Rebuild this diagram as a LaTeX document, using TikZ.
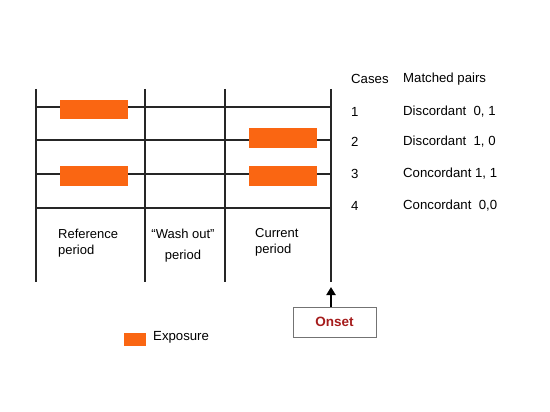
\documentclass[tikz,border=0pt]{standalone}
\usepackage{fontspec}
\setmainfont{Liberation Sans}
\usetikzlibrary{arrows.meta}
\definecolor{expo}{RGB}{250,102,18}
\definecolor{onsetred}{RGB}{165,28,28}
\begin{document}
\begin{tikzpicture}[x=1pt,y=-1pt,
  grid/.style={line width=1.3pt,black!85},
  bar/.style={fill=expo,draw=none},
  lbl/.style={font=\fontsize{13.2}{15}\selectfont,inner sep=0pt,anchor=west},
  plbl/.style={font=\fontsize{13}{16}\selectfont,inner sep=0pt,align=left,anchor=north west}]
\useasboundingbox (0,0) rectangle (550,412);
% vertical lines
\foreach \x in {36,145,225,331} \draw[grid] (\x,89) -- (\x,282);
% horizontal lines
\foreach \y in {107,140,174,208} \draw[grid] (36,\y) -- (331,\y);
% exposure bars
\fill[bar] (60,100) rectangle (128,119);
\fill[bar] (249,128) rectangle (317,148);
\fill[bar] (60,166) rectangle (128,186);
\fill[bar] (249,166) rectangle (317,186);
% period labels
\node[plbl] (ref) at (58,228.5) {Reference\\period};
\node[plbl,align=center,anchor=north] (wash) at (183,228.5) {“Wash out”\\[5pt]period};
\node[plbl] (cur) at (255,228.5) {Current\\period};
% table on the right
\node[lbl] (cases) at (351,79) {Cases};
\node[lbl] (mp) at (403,79) {Matched pairs};
\node[lbl] (n1) at (351,112) {1};
\node[lbl] (t1) at (403,112) {Discordant\ \ 0, 1};
\node[lbl] (n2) at (351,142) {2};
\node[lbl] (t2) at (403,142) {Discordant\ \ 1, 0};
\node[lbl] (n3) at (351,174) {3};
\node[lbl] (t3) at (403,174) {Concordant 1, 1};
\node[lbl] (n4) at (351,206) {4};
\node[lbl] (t4) at (403,206) {Concordant\ \ 0,0};
% onset
\node[draw=black!55,line width=0.8pt,minimum width=83pt,minimum height=30pt,inner sep=0pt,
  text=onsetred,font=\fontsize{13.5}{15}\selectfont\bfseries] (onset) at (334.5,322) {Onset};
\coordinate (onsettip) at (331,287);
\draw[line width=2.4pt,-{Triangle[length=8pt,width=9pt]}] (onset.north -| onsettip) -- (onsettip);
% legend
\fill[bar] (124,333) rectangle (146,346);
\node[lbl] (expo) at (153,337) {Exposure};
\end{tikzpicture}
\end{document}
